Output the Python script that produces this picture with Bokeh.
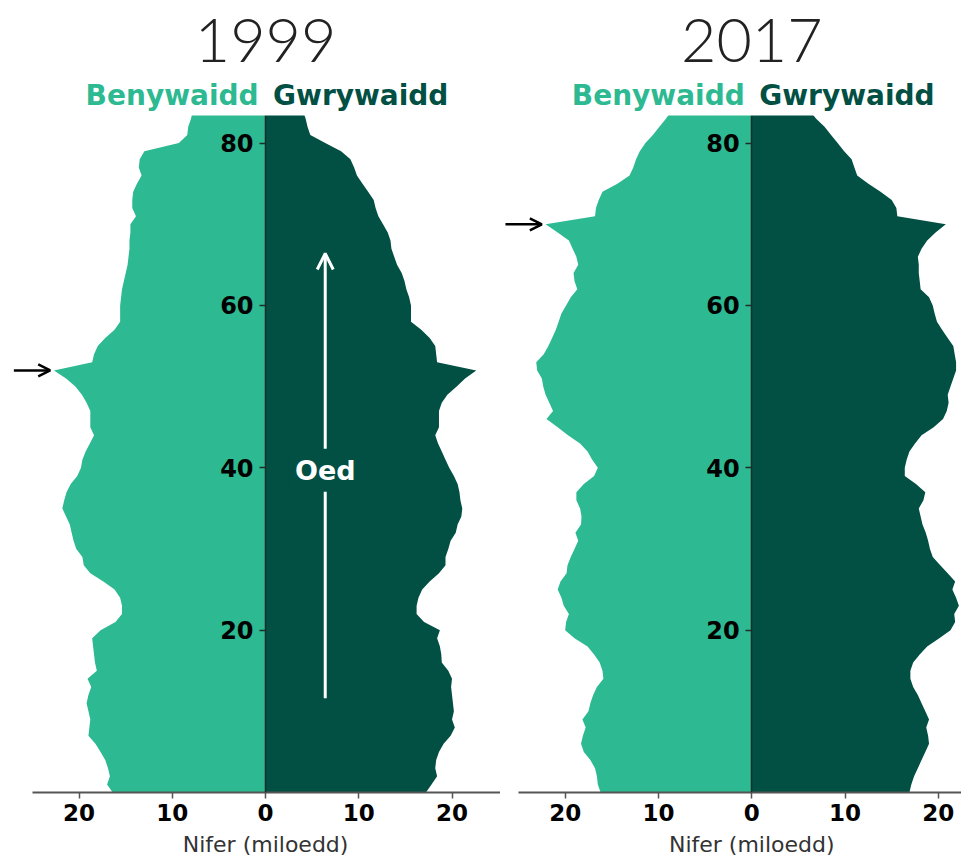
import numpy as np
from bokeh.plotting import figure
from bokeh.layouts import row, column
from bokeh.models import Range1d, FixedTicker, Label, Arrow, OpenHead
from bokeh.embed import file_html
from bokeh.resources import INLINE

# ---------------- data (thousands of people, by single year of age) ----------------
ages = list(range(0, 85))

female_1999 = [16.4, 17.0, 16.7, 16.9, 17.2, 17.7, 18.25, 19.0, 18.9, 18.8,
               19.0, 19.2, 19.0, 18.7, 19.1, 18.1, 18.3, 18.4, 18.5, 18.6,
               17.7, 16.1, 15.4, 15.4, 15.6, 16.2, 17.4, 18.8, 19.5, 19.65,
               20.3, 20.6, 20.8, 21.0, 21.4, 21.8, 21.6, 21.35, 20.9, 20.2,
               19.8, 19.65, 19.3, 18.85, 18.4, 18.8, 18.8, 18.8, 19.2, 19.7,
               20.4, 21.4, 22.7, 18.6, 18.4, 18.0, 17.2, 16.2, 15.6, 15.6,
               15.6, 15.5, 15.4, 15.2, 15.0, 14.8, 14.7, 14.6, 14.6, 14.5,
               14.5, 13.9, 14.3, 14.3, 14.2, 13.8, 13.3, 13.6, 13.5, 13.0,
               9.3, 8.4, 8.3, 8.0, 7.8]
male_1999 = [17.2, 17.8, 18.4, 18.2, 18.3, 18.6, 19.1, 19.85, 20.3, 20.0,
             20.2, 20.1, 20.0, 19.9, 20.0, 19.6, 18.9, 18.85, 18.7, 18.4,
             18.7, 17.0, 16.2, 16.2, 16.4, 16.8, 17.6, 18.6, 19.3, 19.3,
             19.6, 19.85, 20.4, 20.6, 21.0, 21.1, 20.9, 20.8, 20.6, 20.2,
             19.7, 19.3, 18.9, 18.5, 18.2, 18.6, 18.6, 18.6, 18.9, 19.5,
             20.5, 21.4, 22.6, 18.4, 18.3, 18.2, 17.6, 16.7, 15.6, 15.6,
             15.6, 15.4, 15.1, 14.9, 14.6, 14.1, 13.8, 13.5, 13.4, 13.1,
             12.6, 12.1, 11.8, 11.6, 11.0, 10.4, 9.8, 9.5, 9.1, 8.1,
             6.4, 4.8, 4.5, 4.3, 4.0]
female_2017 = [16.2, 16.5, 16.6, 16.8, 17.3, 18.0, 18.3, 18.1, 17.8, 18.15,
               17.5, 17.3, 17.0, 16.6, 15.9, 16.0, 16.3, 16.9, 17.6, 19.0,
               20.0, 19.9, 19.6, 20.15, 20.4, 20.8, 20.5, 19.85, 19.75, 19.4,
               19.0, 18.6, 18.9, 18.3, 18.25, 18.4, 18.8, 18.8, 18.0, 16.9,
               16.5, 17.1, 17.6, 18.4, 19.7, 20.8, 22.0, 21.3, 21.7, 22.1,
               22.35, 22.5, 23.0, 23.1, 22.3, 21.8, 21.4, 21.0, 20.7, 20.4,
               19.9, 19.4, 18.7, 19.0, 19.1, 18.6, 18.8, 19.2, 19.6, 20.8,
               22.1, 16.8, 16.7, 16.4, 16.0, 14.4, 13.1, 12.7, 12.4, 12.0,
               11.4, 10.6, 9.9, 9.2, 8.6]
male_2017 = [16.9, 17.1, 17.4, 17.8, 18.2, 18.6, 19.0, 18.9, 18.7, 19.0,
             18.6, 18.2, 17.8, 17.3, 17.0, 17.0, 17.3, 18.0, 18.8, 20.1,
             21.3, 21.8, 21.7, 22.2, 21.9, 21.5, 21.8, 21.0, 20.2, 19.4,
             19.1, 18.9, 18.65, 18.3, 18.1, 17.9, 18.4, 18.6, 17.6, 16.4,
             16.4, 16.6, 16.9, 17.5, 18.2, 19.5, 20.5, 20.9, 21.1, 21.0,
             21.3, 21.6, 21.9, 21.9, 21.75, 21.6, 21.0, 20.4, 19.85, 19.6,
             19.4, 19.0, 18.1, 18.0, 17.9, 17.9, 17.8, 18.2, 18.8, 19.7,
             20.8, 15.6, 15.5, 15.0, 13.8, 12.5, 11.3, 11.0, 10.7, 9.9,
             9.2, 8.5, 7.8, 6.9, 6.2]

years = ["1999", "2017"]
sex_labels = ["Benywaidd", "Gwrywaidd"]
x_ticks = [-20, -10, 0, 10, 20]
x_tick_labels = ["20", "10", "0", "10", "20"]
y_ticks = [20, 40, 60, 80]
x_axis_title = "Nifer (miloedd)"
arrow_label = "Oed"
peak_age = {"1999": 52, "2017": 70}

# ---------------- style ----------------
LIGHT = "#2db991"
DARK = "#024f43"
FONT = "DejaVu Sans"
PX_PER_UNIT = 9.32


def bare_fig(width, height, x_range):
    f = figure(width=width, height=height, output_backend="svg", toolbar_location=None,
               x_range=x_range, y_range=Range1d(0, height),
               x_axis_type=None, y_axis_type=None,
               min_border_left=0, min_border_right=0, min_border_top=0, min_border_bottom=0)
    f.outline_line_color = None
    f.background_fill_color = "white"
    f.border_fill_color = "white"
    return f


def make_panel(year, female, male, width, axis_inset, x_end):
    x_start = -25 - axis_inset / PX_PER_UNIT
    xr = Range1d(x_start, x_end)

    # ---- header: year + sex labels ----
    h = bare_fig(width, 115, xr)
    h.add_layout(Label(x=0, y=75, text=year, text_align="center",
                       text_baseline="alphabetic", text_font="Lato Light",
                       text_font_size="61px", text_color="#222222"))
    h.add_layout(Label(x=-0.75, y=20, text=sex_labels[0], text_align="right",
                       text_baseline="alphabetic", text_font=FONT, text_font_style="bold",
                       text_font_size="28px", text_color=LIGHT))
    h.add_layout(Label(x=0.8, y=20, text=sex_labels[1], text_align="left",
                       text_baseline="alphabetic", text_font=FONT, text_font_style="bold",
                       text_font_size="28px", text_color=DARK))

    # ---- main pyramid ----
    p = figure(width=width, height=717, output_backend="svg", toolbar_location=None,
               x_range=xr, y_range=Range1d(0, 83.4),
               min_border_left=0, min_border_right=0,
               min_border_top=0, min_border_bottom=40)
    p.outline_line_color = None
    p.grid.visible = False
    p.background_fill_color = "white"
    p.border_fill_color = "white"

    a = np.array(ages, dtype=float)
    f = np.array(female, dtype=float)
    m = np.array(male, dtype=float)
    p.harea(x1=np.zeros_like(f), x2=-f, y=a, fill_color=LIGHT)
    p.harea(x1=np.zeros_like(m), x2=m, y=a, fill_color=DARK)

    xa = p.xaxis[0]
    xa.bounds = (-25, x_end)
    xa.ticker = FixedTicker(ticks=x_ticks)
    xa.major_label_overrides = {t: l for t, l in zip(x_ticks, x_tick_labels)}
    xa.minor_tick_line_color = None
    xa.axis_line_color = "#555555"
    xa.axis_line_width = 2
    xa.major_tick_line_color = "#555555"
    xa.major_tick_line_width = 1.5
    xa.major_tick_out = 6
    xa.major_tick_in = 0
    xa.major_label_text_font = FONT
    xa.major_label_text_font_style = "bold"
    xa.major_label_text_font_size = "23px"
    xa.major_label_text_color = "black"
    xa.major_label_standoff = 5

    ya = p.yaxis[0]
    ya.fixed_location = 0
    ya.ticker = FixedTicker(ticks=y_ticks)
    ya.minor_tick_line_color = None
    ya.axis_line_color = "#1c2e2a"
    ya.axis_line_width = 1.5
    ya.major_tick_line_color = "#1c2e2a"
    ya.major_tick_line_width = 1.5
    ya.major_tick_out = 6
    ya.major_tick_in = 0
    ya.major_label_text_font = FONT
    ya.major_label_text_font_style = "bold"
    ya.major_label_text_font_size = "24px"
    ya.major_label_text_color = "black"
    ya.major_label_standoff = 6

    # black arrow pointing at the 1947 birth cohort
    pk = peak_age[year]
    tip = -female[ages.index(pk)] - 0.4
    p.add_layout(Arrow(x_start=tip - 3.9, y_start=pk, x_end=tip, y_end=pk,
                       line_color="black", line_width=2.5,
                       end=OpenHead(size=12, line_color="black", line_width=2.5)))

    # ---- footer: x axis title ----
    ft = bare_fig(width, 25, xr)
    ft.add_layout(Label(x=0, y=13.5, text=x_axis_title, text_align="center",
                        text_baseline="alphabetic", text_font=FONT,
                        text_font_size="22px", text_color="#333333"))
    return h, p, ft


h1, p1, f1 = make_panel(years[0], female_1999, male_1999, width=500, axis_inset=32, x_end=25.2)
h2, p2, f2 = make_panel(years[1], female_2017, male_2017, width=461, axis_inset=18, x_end=22.48)

# white "Oed" age arrow on the 1999 panel
p1.add_layout(Arrow(x_start=6.4, y_start=11.6, x_end=6.4, y_end=66.4,
                    line_color="white", line_width=3,
                    end=OpenHead(size=16, line_color="white", line_width=3)))
p1.add_layout(Label(x=6.4, y=39.7, text=arrow_label, text_align="center",
                    text_baseline="middle", text_font=FONT, text_font_style="bold",
                    text_font_size="27px", text_color="white",
                    background_fill_color=DARK, padding=6))

layout = row(column(h1, p1, f1), column(h2, p2, f2))
open("out.html", "w").write(file_html(layout, INLINE))
